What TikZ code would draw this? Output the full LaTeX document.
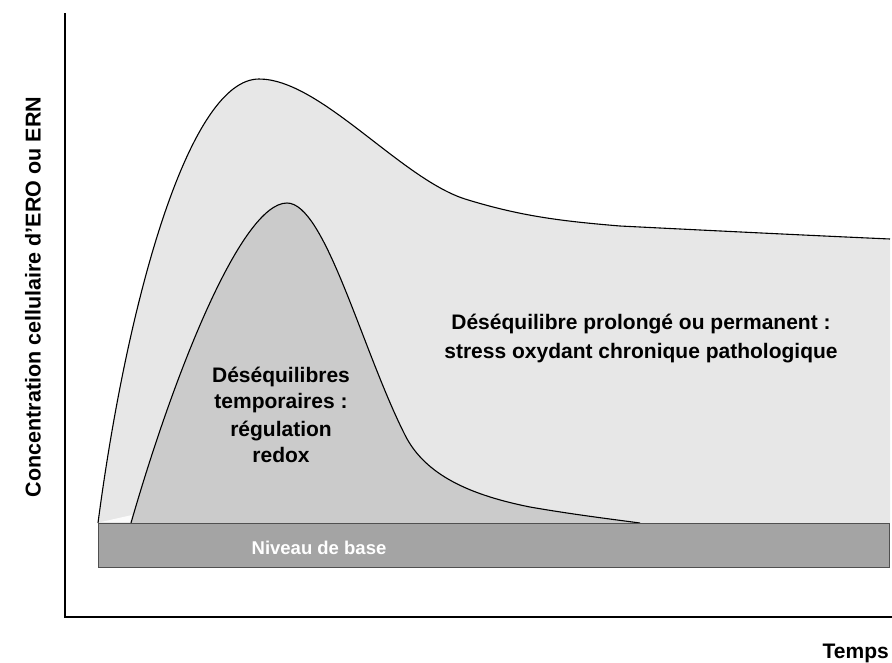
\documentclass[tikz,border=0pt]{standalone}
\usepackage{fontspec}
\setmainfont{Liberation Sans}
\definecolor{outerfill}{HTML}{E7E7E7}
\definecolor{innerfill}{HTML}{CBCBCB}
\definecolor{basefill}{HTML}{A4A4A4}
\definecolor{baseedge}{HTML}{505050}
\begin{document}
\begin{tikzpicture}[x=1pt,y=-1pt,
  curve/.style={draw=black,line width=1.1pt},
  axisline/.style={draw=black,line width=2.4pt},
  lbl/.style={inner sep=0pt,font=\fontsize{21}{27}\selectfont\bfseries},
  basebox/.style={fill=basefill,draw=baseedge,line width=1pt}]
\useasboundingbox (0,0) rectangle (892,662);
\def\outerpath{(98,523) .. controls (128,295) and (190,79) .. (259,79)
  .. controls (320,79) and (400,178) .. (465,199)
  .. controls (520,216) and (560,221) .. (620,226)
  .. controls (700,230) and (800,235) .. (890,239)}
\def\innerpath{(131,523) .. controls (175,370) and (242,203) .. (287,203)
  .. controls (325,203) and (362,350) .. (405,435)
  .. controls (425,475) and (470,495) .. (530,507)
  .. controls (570,514) and (610,519) .. (640,523)}
% fills
\fill[outerfill] \outerpath -- (890,523) -- (98,523) -- cycle;
\fill[innerfill] \innerpath -- cycle;
\fill[white,opacity=0.85] (101,522) -- (130,522) -- (132,515) -- cycle;
% curves
\draw[curve] \outerpath;
\draw[curve] \innerpath;
% base level
\draw[basebox] (98,523) rectangle (889,567);
\node[lbl,text=white,anchor=base,font=\fontsize{18.5}{22}\selectfont\bfseries] (base) at (319,554) {Niveau de base};
% axes
\coordinate (ytop) at (65,13);
\coordinate (origin) at (65,617);
\coordinate (xend) at (892,617);
\draw[axisline] (ytop) -- (origin) -- (xend);
% labels
\node[lbl,anchor=base] (ta) at (281,382) {Déséquilibres};
\node[lbl,anchor=base] (tb) at (281,408) {temporaires :};
\node[lbl,anchor=base] (tc) at (281,436) {régulation};
\node[lbl,anchor=base] (td) at (281,462) {redox};
\node[lbl,anchor=base] (pa) at (641,329) {Déséquilibre prolongé ou permanent :};
\node[lbl,anchor=base] (pb) at (641,358) {stress oxydant chronique pathologique};
\node[lbl,anchor=base east] (temps) at (889,658) {Temps};
\node[lbl,rotate=90,font=\fontsize{21.5}{26}\selectfont\bfseries] (ylab) at (33,297) {Concentration cellulaire d’ERO ou ERN};
\end{tikzpicture}
\end{document}
